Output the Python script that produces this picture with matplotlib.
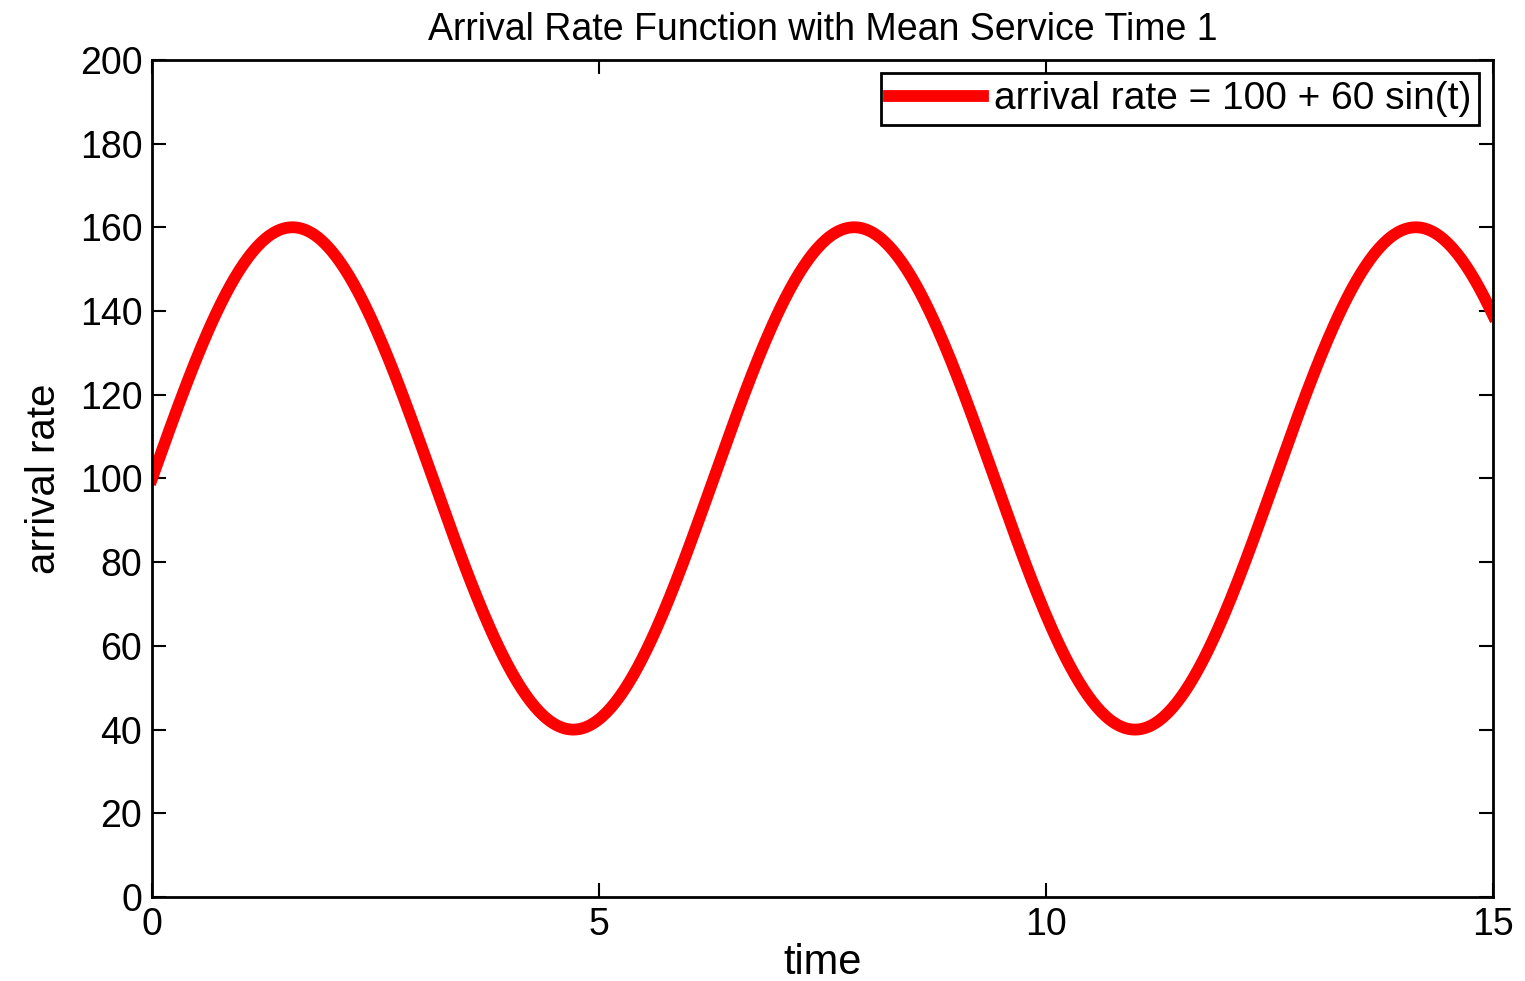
import numpy as np
import matplotlib.pyplot as plt

# values as given by the legend of the chart
base_rate = 100
amplitude = 60
t_start, t_end = 0, 15
xticks = [0, 5, 10, 15]
yticks = [0, 20, 40, 60, 80, 100, 120, 140, 160, 180, 200]
label = 'arrival rate = 100 + 60 sin(t)'

t = np.linspace(t_start, t_end, 600)
rate = base_rate + amplitude * np.sin(t)

plt.rcParams['font.family'] = ['Liberation Sans', 'DejaVu Sans']

fig = plt.figure(figsize=(15.25, 9.81), dpi=100)
ax = fig.add_axes([0.0997, 0.0856, 0.8793, 0.8534])

ax.plot(t, rate, color='red', linewidth=8.5, label=label)

ax.set_xlim(t_start, t_end)
ax.set_ylim(0, 200)
ax.set_xticks(xticks)
ax.set_yticks(yticks)
ax.tick_params(direction='in', length=10, width=1.5, top=True, right=True,
               labelsize=27, pad=7)
for s in ax.spines.values():
    s.set_linewidth(2)

ax.set_title('Arrival Rate Function with Mean Service Time 1', fontsize=27, pad=14)
ax.set_xlabel('time', fontsize=30, labelpad=0)
ax.set_ylabel('arrival rate', fontsize=29, labelpad=12)

leg = ax.legend(loc='upper right', fontsize=28, handlelength=2.4, handletextpad=0.3,
                borderpad=0.2, fancybox=False, framealpha=1, edgecolor='black',
                borderaxespad=0.35)
leg.get_frame().set_linewidth(2)

fig.savefig('out.png', dpi=100)
